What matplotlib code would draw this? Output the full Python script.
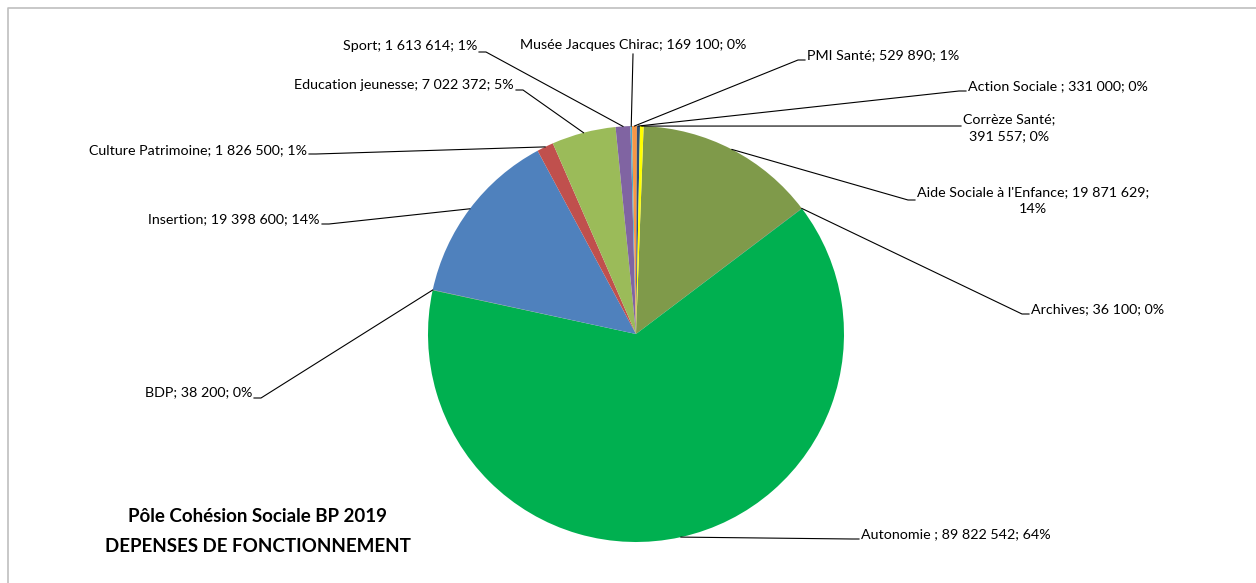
import matplotlib.pyplot as plt
import numpy as np

# clockwise order starting from the top-right
names = ["Aide Sociale à l'Enfance", "Archives", "Autonomie ", "BDP", "Insertion",
         "Culture Patrimoine", "Education jeunesse", "Sport", "Musée Jacques Chirac",
         "PMI Santé", "Action Sociale ", "Corrèze Santé"]
values = [19871629, 36100, 89822542, 38200, 19398600,
          1826500, 7022372, 1613614, 169100,
          529890, 331000, 391557]
pcts = ["14%", "0%", "64%", "0%", "14%", "1%", "5%", "1%", "0%", "1%", "0%", "0%"]
colors = ["#7F9A4A", "#772C2A", "#00B050", "#5F7530", "#4F81BD",
          "#C0504D", "#9BBB59", "#8064A2", "#4BACC6",
          "#F79646", "#2C4D75", "#FFFF00"]

# label placement in pixels (x, y from top), text alignment
text_pos = [(917, 204), (1031, 309), (861, 534), (252, 392), (320, 219),
            (307, 150), (514, 85), (477, 46), (633, 45),
            (807, 55), (968, 86), (963, 131)]
text_ha = ["left", "left", "left", "right", "right",
           "right", "right", "right", "center",
           "left", "left", "left"]
line_y = [200, 314, 539, 398, 224, 154, 90, 52, 54, 60, 91, 126]

W, H = 1256, 583
cx, cy, r = 636, 334, 208


def fmt(v):
    return f"{v:,}".replace(",", " ")


labels = [f"{n}; {fmt(v)}; {p}" for n, v, p in zip(names, values, pcts)]
labels[0] = f"{names[0]}; {fmt(values[0])};\n{pcts[0]}"
labels[11] = f"{names[11]};\n{fmt(values[11])}; {pcts[11]}"

font = ["Lato", "DejaVu Sans"]
fs = 10.3

fig = plt.figure(figsize=(W / 100, H / 100), dpi=100)
ax = fig.add_axes([0, 0, 1, 1])

# chart frame
ax.plot([8, 8, W + 5], [-5, H - 8, H - 8], color="#BFBFBF", lw=1.2)

wedges, _ = ax.pie(values, colors=colors, startangle=87.9, counterclock=False,
                   center=(cx, H - cy), radius=r, frame=True,
                   wedgeprops=dict(linewidth=0))
ax.set_xlim(0, W)
ax.set_ylim(0, H)
ax.set_aspect("equal")
ax.axis("off")

for w, lab, (tx, ty), ha, ly in zip(wedges, labels, text_pos, text_ha, line_y):
    mid = np.deg2rad((w.theta1 + w.theta2) / 2)
    axx = cx + r * np.cos(mid)
    ayy = (H - cy) + r * np.sin(mid)
    if ha == "center":
        ax.text(tx, H - ty, lab, ha="center", va="center", fontsize=fs, family=font)
        ax.plot([tx, axx], [H - ly, ayy], color="black", lw=0.8)
        continue
    va = "center"
    tyy = H - ty
    if "\n" in lab:
        va = "top"
        tyy = H - (ty - 18)
    ax.text(tx, tyy, lab, ha=ha, va=va, fontsize=fs, family=font,
            multialignment="center", linespacing=1.5)
    ex = tx + (2 if ha == "right" else -2)
    fx = ex + (7 if ha == "right" else -7)
    ax.plot([ex, fx, axx], [H - ly, H - ly, ayy], color="black", lw=0.8)

ax.text(258, H - 517, "Pôle Cohésion Sociale BP 2019", ha="center", va="center",
        fontsize=13.5, fontweight="bold", family=font)
ax.text(258, H - 546, "DEPENSES DE FONCTIONNEMENT", ha="center", va="center",
        fontsize=13.5, fontweight="bold", family=font)

fig.savefig("out.png", dpi=100)
